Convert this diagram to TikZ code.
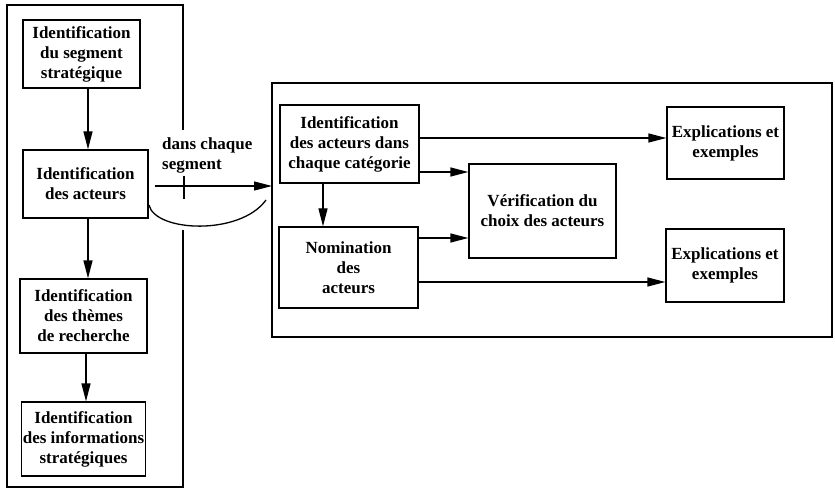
\documentclass[tikz,border=0pt]{standalone}
\usepackage{fontspec}
\setmainfont{Liberation Serif}
\usetikzlibrary{arrows.meta}
\begin{document}
\begin{tikzpicture}[x=1pt,y=-1pt,
  every node/.style={font=\bfseries\fontsize{17}{20}\selectfont},
  box/.style={draw, line width=1.3pt, rectangle, inner sep=1pt, align=center},
  arr/.style={line width=1.3pt, -{Triangle[length=18pt,width=9pt]}},
  ln/.style={line width=1.3pt}]
\useasboundingbox (0,0) rectangle (835,489);
% left frame
\draw[ln] (183,130) -- (183,5) -- (7,5) -- (7,487) -- (183,487) -- (183,230);
% left column boxes
\node[box, minimum width=117pt, minimum height=68pt] (b1) at (81.5,54) {Identification\\du segment\\stratégique};
\node[box, minimum width=125pt, minimum height=68pt] (b2) at (85.5,184) {Identification\\des acteurs};
\node[box, minimum width=127pt, minimum height=74pt] (b3) at (83.5,316) {Identification\\des thèmes\\de recherche};
\node[box, minimum width=123pt, minimum height=74pt] (b4) at (83.5,439) {Identification\\des informations\\stratégiques};
\coordinate (colA) at (88,0);
\coordinate (colB) at (86,0);
\draw[arr] (b1.south -| colA) -- (b2.north -| colA);
\draw[arr] (b2.south -| colA) -- (b3.north -| colA);
\draw[arr] (b3.south -| colB) -- (b4.north -| colB);
% right frame
\draw[ln] (272,83) rectangle (832,337);
\coordinate (fr) at (272,186);
% transition arrow
\coordinate (as) at (155,186);
\draw[arr] (as) -- (fr);
\coordinate (tk1) at (184,176);
\coordinate (tk2) at (184,199);
\draw[ln] (tk1) -- (tk2);
\coordinate (arcA) at (149,205);
\coordinate (arcB) at (266,200);
\draw[ln] (arcA) .. controls (155,232) and (240,236) .. (arcB);
\node[anchor=west, align=left, inner sep=0pt] (lab) at (162,155) {dans chaque\\segment};
% right boxes
\node[box, minimum width=139pt, minimum height=78pt] (r1) at (349.5,144) {Identification\\des acteurs dans\\chaque catégorie};
\node[box, minimum width=139pt, minimum height=81pt] (r2) at (348.5,267.5) {Nomination\\des\\acteurs};
\node[box, minimum width=147pt, minimum height=94pt] (v) at (542.5,211) {Vérification du\\choix des acteurs};
\node[box, minimum width=117pt, minimum height=72pt] (e1) at (725.5,143) {Explications et\\exemples};
\node[box, minimum width=118pt, minimum height=73pt] (e2) at (725,265.5) {Explications et\\exemples};
\coordinate (colC) at (323,0);
\draw[arr] (r1.south -| colC) -- (r2.north -| colC);
\coordinate (y1) at (0,138);
\coordinate (y2) at (0,172);
\coordinate (y3) at (0,238);
\coordinate (y4) at (0,282);
\draw[arr] (r1.east |- y1) -- (e1.west |- y1);
\draw[arr] (r1.east |- y2) -- (v.west |- y2);
\draw[arr] (r2.east |- y3) -- (v.west |- y3);
\draw[arr] (r2.east |- y4) -- (e2.west |- y4);
\end{tikzpicture}
\end{document}
